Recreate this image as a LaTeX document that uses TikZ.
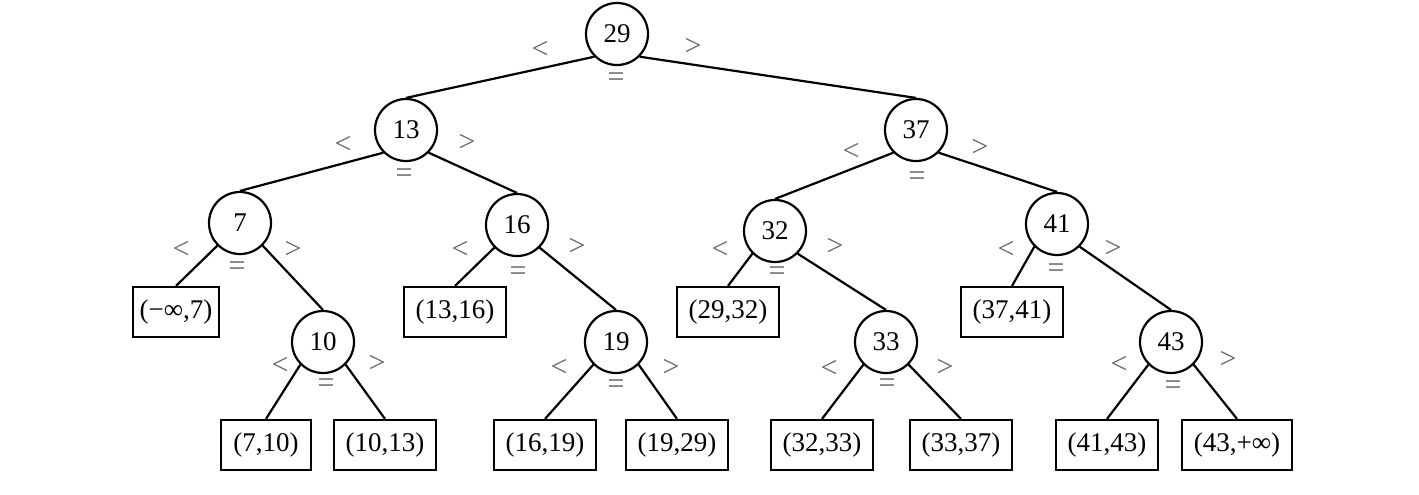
\documentclass[tikz,border=0pt]{standalone}
\usepackage{fontspec}
\setmainfont{Liberation Serif}
\begin{document}
\begin{tikzpicture}[x=0.5pt,y=-0.5pt,
  every node/.style={font=\fontsize{13.5}{16}\selectfont},
  keynode/.style={circle,draw,line width=1.1pt,minimum size=31pt,inner sep=0pt},
  leafbox/.style={rectangle,draw,line width=1.1pt,minimum height=25pt,inner xsep=6pt,inner ysep=0pt},
  edge/.style={line width=1.1pt},
  cmp/.style={text=black!60,inner sep=0pt,font=\fontsize{15}{17}\selectfont}]
\useasboundingbox (0,0) rectangle (1419,494);

% internal keys
\node[keynode] (n29) at (617,34) {29};
\node[keynode] (n13) at (406,130) {13};
\node[keynode] (n37) at (916,130) {37};
\node[keynode] (n7)  at (240,223) {7};
\node[keynode] (n16) at (517,225) {16};
\node[keynode] (n32) at (775,231) {32};
\node[keynode] (n41) at (1057,224) {41};
\node[keynode] (n10) at (323,342) {10};
\node[keynode] (n19) at (616,342) {19};
\node[keynode] (n33) at (886,342) {33};
\node[keynode] (n43) at (1171,342) {43};

% leaf intervals
\node[leafbox,inner xsep=3.5pt] (l1)  at (176,312)  {(−∞,7)};
\node[leafbox] (l2)  at (455,312)  {(13,16)};
\node[leafbox] (l3)  at (728,312)  {(29,32)};
\node[leafbox] (l4)  at (1012,312) {(37,41)};
\node[leafbox] (l5)  at (266,445)  {(7,10)};
\node[leafbox] (l6)  at (385,445)  {(10,13)};
\node[leafbox] (l7)  at (545,445)  {(16,19)};
\node[leafbox] (l8)  at (677,445)  {(19,29)};
\node[leafbox] (l9)  at (822,445)  {(32,33)};
\node[leafbox] (l10) at (961,445)  {(33,37)};
\node[leafbox] (l11) at (1107,445) {(41,43)};
\node[leafbox] (l12) at (1237,445) {(43,+∞)};

% branches
\draw[edge] (n29.south west) -- (n13.north);
\draw[edge] (n29.south east) -- (n37.north);
\draw[edge] (n13.south west) -- (n7.north);
\draw[edge] (n13.south east) -- (n16.north);
\draw[edge] (n37.south west) -- (n32.north);
\draw[edge] (n37.south east) -- (n41.north);
\draw[edge] (n7.south west)  -- (l1.north);
\draw[edge] (n7.south east)  -- (n10.north);
\draw[edge] (n16.south west) -- (l2.north);
\draw[edge] (n16.south east) -- (n19.north);
\draw[edge] (n32.south west) -- (l3.north);
\draw[edge] (n32.south east) -- (n33.north);
\draw[edge] (n41.south west) -- (l4.north);
\draw[edge] (n41.south east) -- (n43.north);
\draw[edge] (n10.south west) -- (l5.north);
\draw[edge] (n10.south east) -- (l6.north);
\draw[edge] (n19.south west) -- (l7.north);
\draw[edge] (n19.south east) -- (l8.north);
\draw[edge] (n33.south west) -- (l9.north);
\draw[edge] (n33.south east) -- (l10.north);
\draw[edge] (n43.south west) -- (l11.north);
\draw[edge] (n43.south east) -- (l12.north);

% comparison marks
\node[cmp] (c29l) at (540,50) {<};  \node[cmp] (c29r) at (693,47) {>};  \node[cmp] (c29e) at (616,80) {=};
\node[cmp] (c13l) at (343,145) {<}; \node[cmp] (c13r) at (467,143) {>}; \node[cmp] (c13e) at (404,176) {=};
\node[cmp] (c37l) at (851,152) {<}; \node[cmp] (c37r) at (980,148) {>}; \node[cmp] (c37e) at (917,179) {=};
\node[cmp] (c7l)  at (181,250) {<}; \node[cmp] (c7r)  at (293,250) {>}; \node[cmp] (c7e)  at (237,269) {=};
\node[cmp] (c16l) at (460,250) {<}; \node[cmp] (c16r) at (577,247) {>}; \node[cmp] (c16e) at (518,274) {=};
\node[cmp] (c32l) at (720,250) {<}; \node[cmp] (c32r) at (835,247) {>}; \node[cmp] (c32e) at (777,274) {=};
\node[cmp] (c41l) at (1006,250) {<};\node[cmp] (c41r) at (1113,249) {>};\node[cmp] (c41e) at (1056,271) {=};
\node[cmp] (c10l) at (280,366) {<}; \node[cmp] (c10r) at (377,364) {>}; \node[cmp] (c10e) at (326,386) {=};
\node[cmp] (c19l) at (559,368) {<}; \node[cmp] (c19r) at (671,368) {>}; \node[cmp] (c19e) at (616,387) {=};
\node[cmp] (c33l) at (829,369) {<}; \node[cmp] (c33r) at (945,368) {>}; \node[cmp] (c33e) at (887,386) {=};
\node[cmp] (c43l) at (1119,365) {<};\node[cmp] (c43r) at (1228,360) {>};\node[cmp] (c43e) at (1173,388) {=};
\end{tikzpicture}
\end{document}
